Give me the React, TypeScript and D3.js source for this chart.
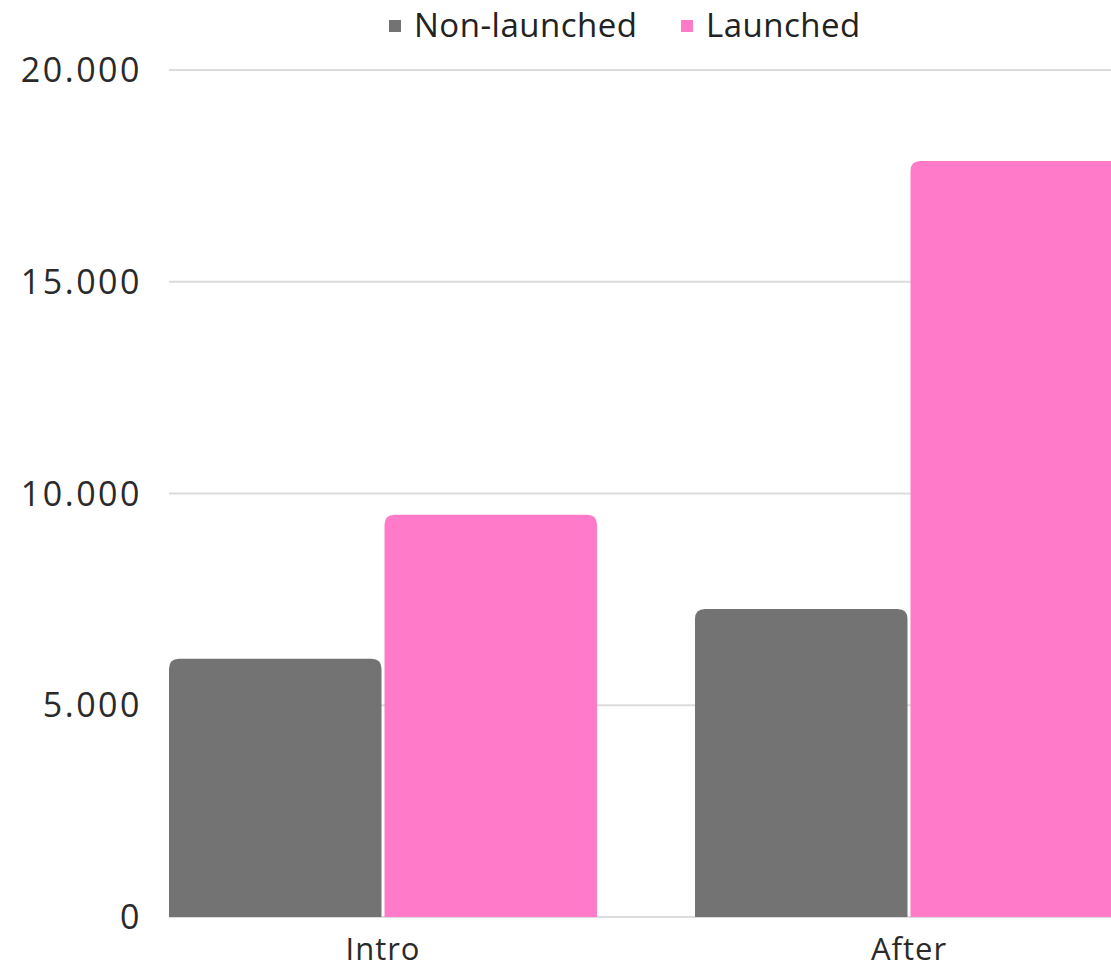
import React from "react";
import * as d3 from "d3";

const categories = ["Intro", "After"];
const seriesNames = ["Non-launched", "Launched"];
const nonLaunched = [6100, 7270];
const launched = [9500, 17850];
const yTicks = [0, 5000, 10000, 15000, 20000];
const yTickLabels = ["0", "5.000", "10.000", "15.000", "20.000"];
const colors = ["#737373", "#ff7ac9"];

const W = 1111;
const H = 968;
const left = 169;
const right = 1123;
const top = 70;
const bottom = 917;

function roundTopRect(x: number, y: number, w: number, h: number, r: number) {
  const rr = Math.min(r, w / 2, h);
  return `M${x},${y + h}V${y + rr}Q${x},${y} ${x + rr},${y}H${x + w - rr}Q${x + w},${y} ${x + w},${y + rr}V${y + h}Z`;
}

export default function App() {
  const x0 = d3.scaleBand<string>().domain(categories).range([left, right]).paddingInner(0.1863).paddingOuter(0);
  const x1 = d3.scaleBand<string>().domain(seriesNames).range([0, x0.bandwidth()]).paddingInner(0.014).paddingOuter(0);
  const y = d3.scaleLinear().domain([0, 20000]).range([bottom, top]);
  const data = [nonLaunched, launched];
  const font = "'Open Sans', sans-serif";

  return (
    <svg width={W} height={H} style={{ position: "absolute", left: 0, top: 0, background: "#fff" }}>
      {yTicks.map((t, i) => (
        <g key={t}>
          <line x1={left} x2={W} y1={y(t)} y2={y(t)} stroke="#dcdcdc" strokeWidth={2} />
          <text
            x={142}
            y={y(t)}
            dy="0.36em"
            textAnchor="end"
            fontFamily={font}
            fontSize={34}
            letterSpacing={2.5}
            fill="#2a2a2a"
          >
            {yTickLabels[i]}
          </text>
        </g>
      ))}
      {categories.map((c, ci) =>
        seriesNames.map((s, si) => {
          const v = data[si][ci];
          const bx = (x0(c) as number) + (x1(s) as number);
          const by = y(v);
          return (
            <path key={c + s} d={roundTopRect(bx, by, x1.bandwidth(), bottom - by, 10)} fill={colors[si]} />
          );
        })
      )}
      {categories.map((c) => (
        <text
          key={c}
          x={(x0(c) as number) + x0.bandwidth() / 2}
          y={960}
          textAnchor="middle"
          fontFamily={font}
          fontSize={31}
          letterSpacing={1}
          fill="#2a2a2a"
        >
          {c}
        </text>
      ))}
      <g>
        <rect x={389} y={20} width={12} height={12} fill={colors[0]} />
        <text x={414} y={37} fontFamily={font} fontSize={33} fill="#222" letterSpacing={0.5}>
          {seriesNames[0]}
        </text>
        <rect x={681} y={20} width={12} height={12} fill={colors[1]} />
        <text x={706} y={37} fontFamily={font} fontSize={33} fill="#222" letterSpacing={0.5}>
          {seriesNames[1]}
        </text>
      </g>
    </svg>
  );
}
